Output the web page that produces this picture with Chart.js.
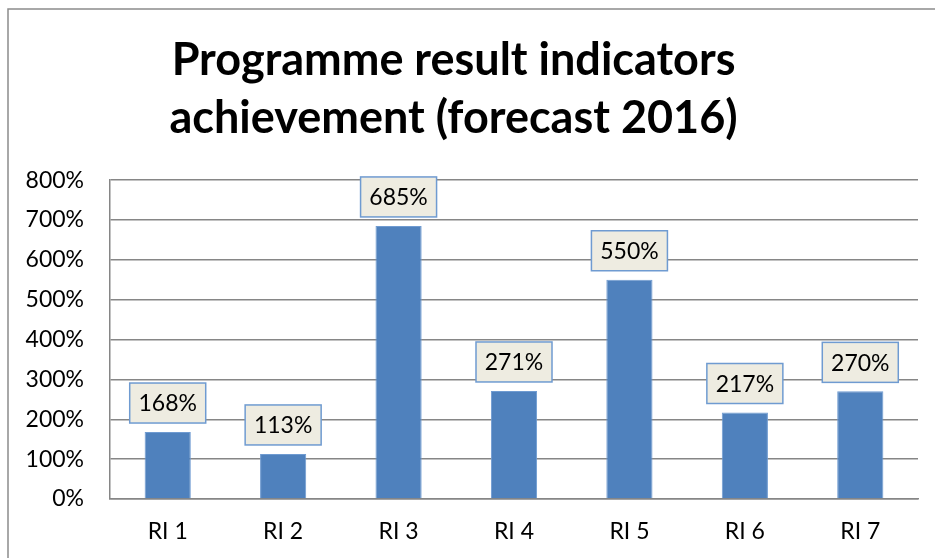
<!DOCTYPE html>
<html>
<head>
<meta charset="utf-8">
<script src="https://cdn.jsdelivr.net/npm/chart.js@4"></script>
<style>
  body { margin: 0; background: #fff; }
  #wrap { position: relative; width: 935px; height: 558px; }
</style>
</head>
<body>
<div id="wrap"><canvas id="myChart"></canvas></div>
<script>
const categories = ["RI 1", "RI 2", "RI 3", "RI 4", "RI 5", "RI 6", "RI 7"];
const achievement = [168, 113, 685, 271, 550, 217, 270];
const tickValues = [0, 100, 200, 300, 400, 500, 600, 700, 800];

const fontFamily = "Lato, 'Open Sans', sans-serif";

// outer frame of the chart
const framePlugin = {
    id: "frame",
    beforeDraw(chart) {
        const ctx = chart.ctx;
        ctx.save();
        ctx.strokeStyle = "#8c8c8c";
        ctx.lineWidth = 1.5;
        ctx.strokeRect(8, 9, 1000, 1000);
        ctx.restore();
    }
};

// boxed value labels above bars
const boxLabels = {
    id: "boxLabels",
    afterDatasetsDraw(chart) {
        const ctx = chart.ctx;
        const meta = chart.getDatasetMeta(0);
        ctx.save();
        ctx.font = "23px " + fontFamily;
        ctx.textAlign = "center";
        ctx.textBaseline = "middle";
        meta.data.forEach(function (bar, i) {
            const w = 76, h = 40;
            const x = bar.x - w / 2;
            const y = bar.y - 9 - h;
            ctx.fillStyle = "#eeece1";
            ctx.fillRect(x, y, w, h);
            ctx.strokeStyle = "#6f9bd1";
            ctx.lineWidth = 1.5;
            ctx.strokeRect(x, y, w, h);
            ctx.fillStyle = "#000";
            ctx.fillText(achievement[i] + "%", bar.x, y + h / 2 + 1);
        });
        ctx.restore();
    }
};

const ctx = document.getElementById("myChart").getContext("2d");
new Chart(ctx, {
    type: "bar",
    data: {
        labels: categories,
        datasets: [{
            data: achievement,
            backgroundColor: "#4f81bd",
            borderColor: "#6f9bd1",
            borderWidth: 1,
            barPercentage: 0.4,
            categoryPercentage: 1
        }]
    },
    options: {
        responsive: true,
        maintainAspectRatio: false,
        animation: false,
        layout: { padding: { left: 0, right: 17, top: 0, bottom: 0 } },
        plugins: {
            legend: { display: false },
            tooltip: { enabled: false },
            title: {
                display: true,
                // trailing space nudges the centred title a little left, like the original
                text: ["Programme result indicators ", "achievement (forecast 2016) "],
                color: "#000",
                font: { family: fontFamily, size: 45, weight: "bold", lineHeight: 1.29 },
                padding: { top: 31, bottom: 33 }
            }
        },
        scales: {
            x: {
                grid: { display: false, drawTicks: false },
                border: { color: "#868686", width: 1.5 },
                ticks: { color: "#000", font: { family: fontFamily, size: 23 }, padding: 19 },
                afterFit(scale) { scale.height = 59; }
            },
            y: {
                min: 0,
                max: 800,
                afterBuildTicks(scale) {
                    scale.ticks = tickValues.map(function (v) { return { value: v }; });
                },
                grid: { color: "#868686", lineWidth: 1.5, drawTicks: false },
                border: { color: "#868686", width: 1.5 },
                ticks: {
                    color: "#000",
                    font: { family: fontFamily, size: 23 },
                    padding: 26,
                    callback: function (v) { return v + "%"; }
                },
                afterFit(scale) { scale.width = 110; }
            }
        }
    },
    plugins: [framePlugin, boxLabels]
});
</script>
</body>
</html>
